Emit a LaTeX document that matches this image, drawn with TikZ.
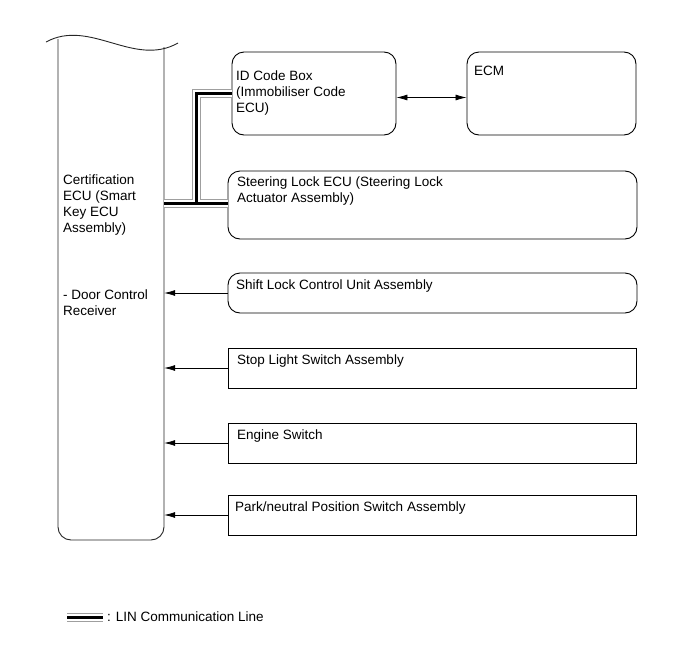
\documentclass[tikz,border=0pt]{standalone}
\usepackage{fontspec}
\setmainfont{Liberation Sans}
\usetikzlibrary{arrows.meta}
\begin{document}
\begin{tikzpicture}[x=1pt,y=-1pt,
  box/.style={draw=black, line width=0.9pt, inner sep=0pt},
  rbox/.style={box, rounded corners=12pt},
  lbl/.style={anchor=north west, inner sep=0pt, align=left, font=\fontsize{13.5}{16}\selectfont},
  arr/.style={line width=0.7pt, -{Latex[length=11pt,width=6pt]}},
  darr/.style={line width=0.7pt, {Latex[length=11pt,width=6pt]}-{Latex[length=11pt,width=6pt]}},
  eculine/.style={draw=black!85, line width=0.9pt},
  linout/.style={line width=9pt, draw=gray!75},
  linmid/.style={line width=7pt, draw=white},
  lincore/.style={line width=3pt, draw=black}]
\useasboundingbox (0,0) rectangle (689,659);

% ECU body (invisible reference node) and outline
\node[inner sep=0pt, minimum width=106pt, minimum height=490pt] (ecu) at (111,295) {};
\draw[eculine, rounded corners=13pt] (58,39) -- (58,540) -- (164,540) -- (164,47);
\draw[eculine] (46,42) .. controls (90,18) and (134,68) .. (178,43);

% boxes
\node[rbox, minimum width=164pt, minimum height=83pt] (idbox) at (314,93.5) {};
\node[rbox, minimum width=169pt, minimum height=83pt] (ecm) at (551.5,93.5) {};
\node[rbox, minimum width=409pt, minimum height=68pt] (steer) at (432.5,205) {};
\node[rbox, minimum width=409pt, minimum height=40pt] (shift) at (432.5,293) {};
\node[box, minimum width=408pt, minimum height=40pt] (stop) at (432,368) {};
\node[box, minimum width=408pt, minimum height=40pt] (engine) at (432,443) {};
\node[box, minimum width=408pt, minimum height=40pt] (park) at (432,515) {};

% texts
\node[lbl] (tid) at (236,71) {ID Code Box\\(Immobiliser Code\\ECU)};
\node[lbl] (tecm) at (474,66) {ECM};
\node[lbl] (tsteer) at (237,177) {Steering Lock ECU (Steering Lock\\Actuator Assembly)};
\node[lbl] (tshift) at (236,280) {Shift Lock Control Unit Assembly};
\node[lbl] (tstop) at (237,355) {Stop Light Switch Assembly};
\node[lbl] (tengine) at (237,430) {Engine Switch};
\node[lbl] (tpark) at (235,502) {Park/neutral Position Switch Assembly};
\node[lbl] (tecu) at (63,175) {Certification\\ECU (Smart\\Key ECU\\Assembly)};
\node[lbl] (tdoor) at (63,290) {- Door Control\\Receiver};

% connectors
\draw[darr] ([yshift=-4pt]idbox.east) -- ([yshift=-4pt]ecm.west);
\draw[arr] (shift.west) -- (shift.west -| ecu.east);
\draw[arr] (stop.west) -- (stop.west -| ecu.east);
\draw[arr] (engine.west) -- (engine.west -| ecu.east);
\draw[arr] (park.west) -- (park.west -| ecu.east);

% LIN communication lines
\coordinate (j) at (196,203);
\foreach \s in {linout,linmid,lincore}
  \draw[\s] (ecu.east |- j) -- (j -| steer.west) (j) |- (idbox.west);

% legend
\coordinate (la) at (67,617);
\coordinate (lb) at (103,617);
\foreach \s in {linout,linmid,lincore}
  \draw[\s] (la) -- (lb);
\node[lbl, anchor=west] (tleg) at (107,617) {: LIN Communication Line};
\end{tikzpicture}
\end{document}
